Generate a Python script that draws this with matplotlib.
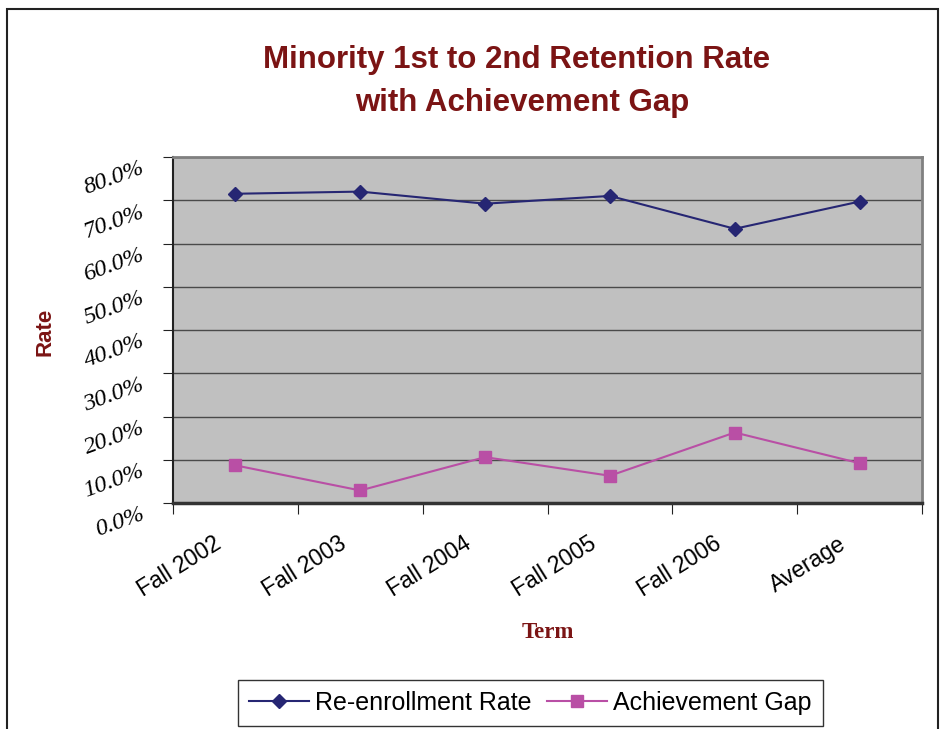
import matplotlib
matplotlib.use("Agg")
import matplotlib.pyplot as plt
import matplotlib.patches as patches
import matplotlib.transforms as mtransforms

terms = ["Fall 2002", "Fall 2003", "Fall 2004", "Fall 2005", "Fall 2006", "Average"]
reenroll = [71.5, 72.0, 69.2, 71.0, 63.4, 69.7]
gap = [8.7, 2.9, 10.6, 6.3, 16.3, 9.2]
yticks = [0, 10, 20, 30, 40, 50, 60, 70, 80]

maroon = "#7B1414"
navy = "#262673"
pink = "#B94FA5"

fig = plt.figure(figsize=(9.47, 7.29), dpi=100)
ax = fig.add_axes([173 / 947, 1 - 503 / 729, (922 - 173) / 947, (503 - 157) / 729])
ax.set_facecolor("#C0C0C0")

x = list(range(len(terms)))
ax.plot(x, reenroll, color=navy, lw=1.5, marker="D", ms=7, label="Re-enrollment Rate")
ax.plot(x, gap, color=pink, lw=1.5, marker="s", ms=8.5, label="Achievement Gap")

ax.set_xlim(-0.5, len(terms) - 0.5)
ax.set_ylim(0, 80)

# y labels: rotated, hanging a bit below each tick like the old Excel chart
ax.set_yticks(yticks)
ax.set_yticklabels([])
ylab_shift = mtransforms.ScaledTranslation(-0.33, -0.01, fig.dpi_scale_trans)
for v in yticks:
    ax.text(0, v, "{:.1f}%".format(v), transform=ax.get_yaxis_transform() + ylab_shift,
            family=["Liberation Serif", "DejaVu Serif"], style="italic", fontsize=17.5,
            rotation=20, ha="right", va="top", rotation_mode="anchor")

# category boundaries get the ticks, names sit under the points
ax.set_xticks([i - 0.5 for i in range(len(terms) + 1)])
ax.set_xticklabels([])
xlab_shift = mtransforms.ScaledTranslation(-0.22, -0.29, fig.dpi_scale_trans)
for i, t in enumerate(terms):
    ax.text(i, 0, t, transform=ax.get_xaxis_transform() + xlab_shift,
            family=["Liberation Sans", "DejaVu Sans"], fontsize=16.5,
            rotation=32, ha="right", va="top", rotation_mode="anchor")

ax.tick_params(axis="x", length=8, direction="out", color="#222222")
ax.tick_params(axis="y", length=7, direction="out", color="#222222")

ax.grid(axis="y", color="#4a4a4a", lw=1)
ax.set_axisbelow(True)
ax.spines["left"].set_color("#222222")
ax.spines["left"].set_linewidth(1.5)
ax.spines["bottom"].set_color("#333333")
ax.spines["bottom"].set_linewidth(2.5)
ax.spines["top"].set_color("#808080")
ax.spines["top"].set_linewidth(2)
ax.spines["right"].set_color("#808080")
ax.spines["right"].set_linewidth(2)

fig.text(517 / 947, 1 - 60 / 729, "Minority 1st to 2nd Retention Rate",
         family=["Liberation Sans Narrow", "Liberation Sans"], fontweight="bold",
         fontsize=22.5, color=maroon, ha="center", va="center")
fig.text(522 / 947, 1 - 103 / 729, "with Achievement Gap",
         family=["Liberation Sans Narrow", "Liberation Sans"], fontweight="bold",
         fontsize=22.5, color=maroon, ha="center", va="center")
fig.text(45 / 947, 1 - 332 / 729, "Rate", family=["Liberation Sans", "DejaVu Sans"],
         fontweight="bold", fontsize=16, color=maroon, rotation=90,
         ha="center", va="center")
fig.text(548 / 947, 1 - 632 / 729, "Term", family=["Liberation Serif", "DejaVu Serif"],
         fontweight="bold", fontsize=16.5, color=maroon, ha="center", va="center")

leg = fig.legend(loc="center", bbox_to_anchor=(530 / 947, 1 - 703 / 729), ncol=2,
                 frameon=True, fancybox=False, edgecolor="#333333", framealpha=1,
                 prop={"family": ["Liberation Sans", "DejaVu Sans"], "size": 18},
                 handlelength=2.4, handletextpad=0.25, columnspacing=0.6,
                 borderpad=0.45, borderaxespad=0)
leg.get_frame().set_linewidth(1)

fig.patches.append(patches.Rectangle((7 / 947, -0.1), (938 - 7) / 947, 1.1 - 9 / 729,
                                     transform=fig.transFigure, fill=False,
                                     edgecolor="#222222", lw=1.5))

fig.savefig("out.png", dpi=100)
